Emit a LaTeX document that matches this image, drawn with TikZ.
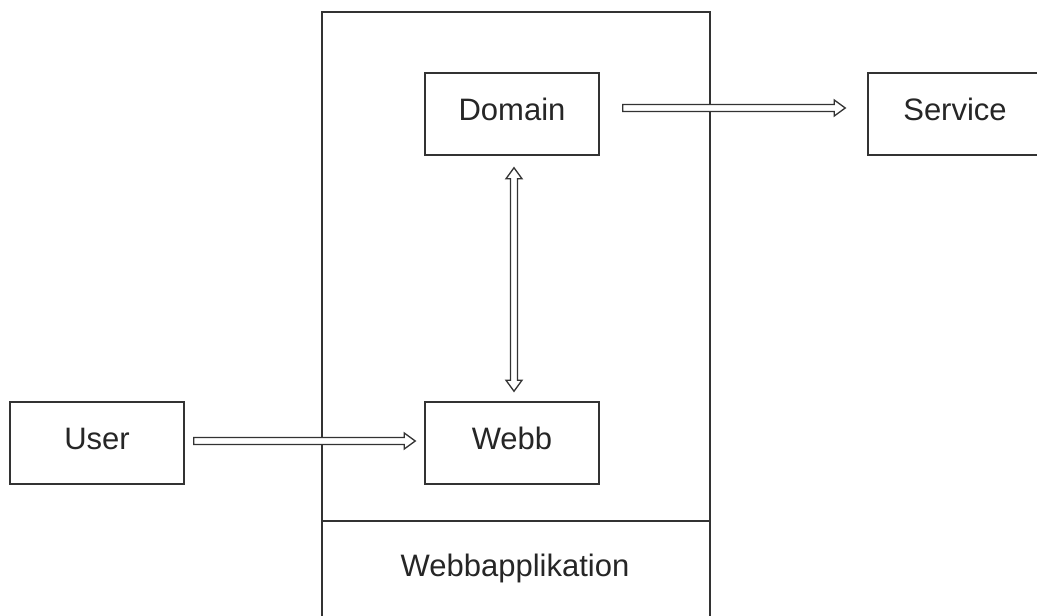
\documentclass[tikz,border=0pt]{standalone}
\usepackage{fontspec}
\setmainfont{Liberation Sans}
\usetikzlibrary{calc}
\tikzset{
  box/.style={draw=black!80, line width=1.5pt, minimum width=174pt, minimum height=82pt, inner sep=0pt, font=\fontsize{31}{37}\selectfont, text=black!85},
  harrow/.style={draw=black!80, line width=1.3pt, fill=white, line join=miter},
  frame/.style={draw=black!80, line width=1.5pt}
}
\newcommand\up[1]{\raisebox{9pt}{#1}}
\begin{document}
\begin{tikzpicture}[x=1pt,y=-1pt]
\useasboundingbox (0,0) rectangle (1037,616);
\clip (0,0) rectangle (1037,616);
\fill[white] (0,0) rectangle (1037,616);
% container
\node[frame, minimum width=388pt, minimum height=640pt, anchor=north west, inner sep=0pt] (app) at (321,11) {};
\draw[frame] (321,521) -- (709,521);
\node[font=\fontsize{31}{37}\selectfont, text=black!85] (applabel) at (515,568) {Webbapplikation};
% boxes
\node[box] (dom) at (512,114) {\up{Domain}};
\node[box] (webb) at (512,443) {\up{Webb}};
\node[box] (user) at (97,443) {\up{User}};
\node[box] (svc) at (955,114) {\up{Service}};
% Domain -> Service
\coordinate (a1s) at ($(dom.east)+(23,-6)$);
\coordinate (a1e) at ($(svc.west)+(-22,-6)$);
\draw[harrow] let \p1=(a1s), \p2=(a1e) in
  (\x1,\y1+3.5pt) -- (\x2-11pt,\y1+3.5pt) -- (\x2-11pt,\y1+8pt) -- (\x2,\y1)
  -- (\x2-11pt,\y1-8pt) -- (\x2-11pt,\y1-3.5pt) -- (\x1,\y1-3.5pt) -- cycle;
% User -> Webb
\coordinate (a2s) at ($(user.east)+(9,-2)$);
\coordinate (a2e) at ($(webb.west)+(-9,-2)$);
\draw[harrow] let \p1=(a2s), \p2=(a2e) in
  (\x1,\y1+3.5pt) -- (\x2-11pt,\y1+3.5pt) -- (\x2-11pt,\y1+8pt) -- (\x2,\y1)
  -- (\x2-11pt,\y1-8pt) -- (\x2-11pt,\y1-3.5pt) -- (\x1,\y1-3.5pt) -- cycle;
% Domain <-> Webb
\coordinate (a3s) at ($(dom.south)+(2,12)$);
\coordinate (a3e) at ($(webb.north)+(2,-10)$);
\draw[harrow] let \p1=(a3s), \p2=(a3e) in
  (\x1,\y1) -- (\x1+8pt,\y1-11pt) -- (\x1+3.5pt,\y1-11pt) -- (\x1+3.5pt,\y2+11pt)
  -- (\x1+8pt,\y2+11pt) -- (\x1,\y2) -- (\x1-8pt,\y2+11pt) -- (\x1-3.5pt,\y2+11pt)
  -- (\x1-3.5pt,\y1-11pt) -- (\x1-8pt,\y1-11pt) -- cycle;
\end{tikzpicture}
\end{document}
